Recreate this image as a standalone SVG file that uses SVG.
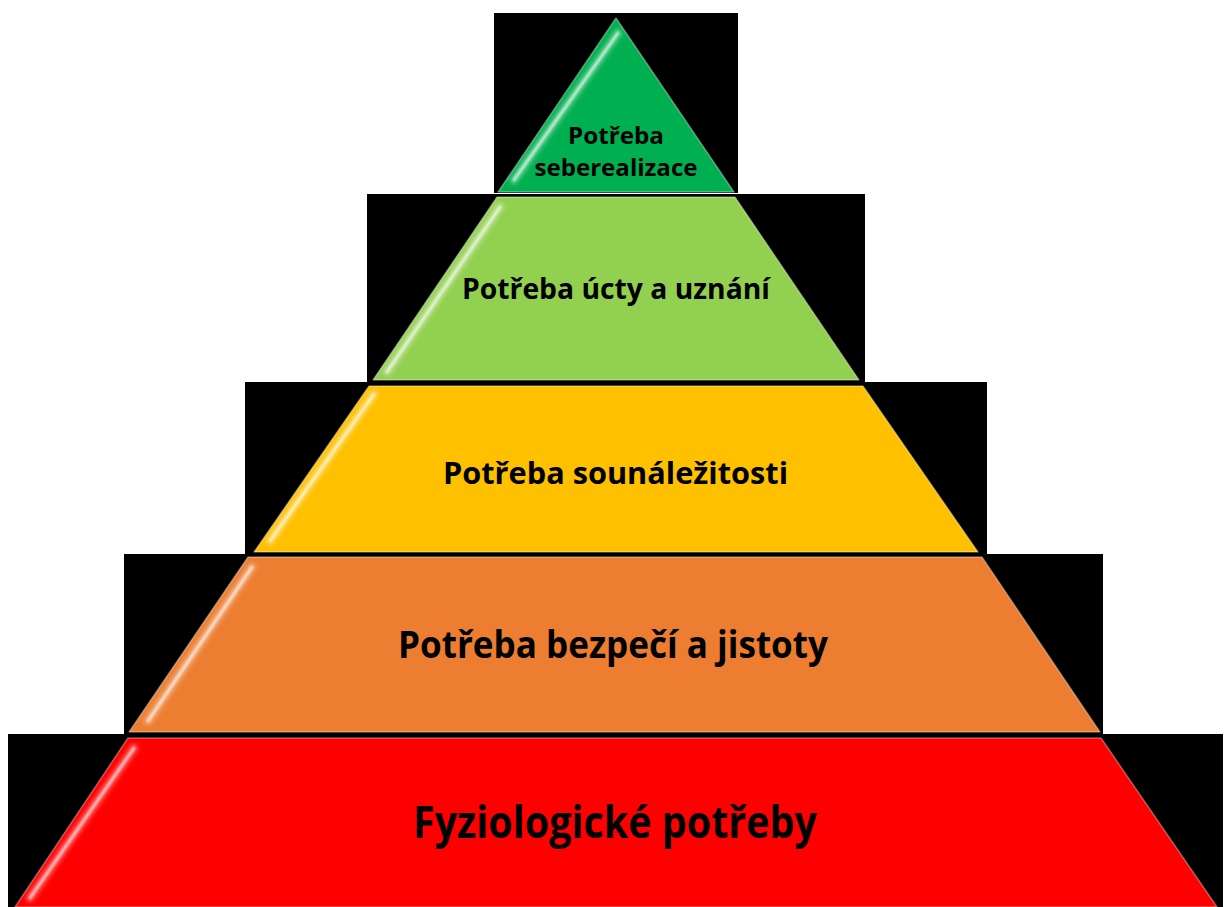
<svg xmlns="http://www.w3.org/2000/svg" width="1228" height="907" viewBox="0 0 1228 907">
<style>
.bg{fill:#000}
.tier{stroke:#ffffff;stroke-opacity:0.35;stroke-width:1.5;stroke-linejoin:round}
.glow{fill:none;stroke:#ffffff;stroke-opacity:0.35;stroke-width:8;stroke-linecap:round;filter:url(#soft)}
.core{fill:none;stroke:#ffffff;stroke-opacity:0.75;stroke-width:2.4;stroke-linecap:round;filter:url(#soft1)}
.lbl{font-family:"Open Sans","Noto Sans","Liberation Sans",sans-serif;font-weight:bold;fill:#000;text-anchor:middle}
</style>
<defs>
<filter id="soft" x="-20%" y="-20%" width="140%" height="140%"><feGaussianBlur stdDeviation="2"/></filter>
<filter id="soft1" x="-20%" y="-20%" width="140%" height="140%"><feGaussianBlur stdDeviation="0.8"/></filter>
</defs>
<rect width="1228" height="907" fill="#fff"/>

<g id="tier5">
<rect class="bg" x="8" y="734" width="1215" height="173"/>
<polygon class="tier" fill="#FF0000" points="128,738 1101,738 1217,907 15,907"/>
<line class="glow" x1="134" y1="748" x2="30" y2="898"/>
<line class="core" x1="134" y1="748" x2="30" y2="898"/>
<text class="lbl" x="615" y="838" font-size="45" textLength="404" lengthAdjust="spacingAndGlyphs">Fyziologické potřeby</text>
</g>

<g id="tier4">
<rect class="bg" x="124" y="554" width="979" height="180"/>
<polygon class="tier" fill="#ED7D31" points="248,557 982,557 1100,732 129,732"/>
<line class="glow" x1="252" y1="567" x2="148" y2="721"/>
<line class="core" x1="252" y1="567" x2="148" y2="721"/>
<text class="lbl" x="613" y="658" font-size="37" textLength="430" lengthAdjust="spacingAndGlyphs">Potřeba bezpečí a jistoty</text>
</g>

<g id="tier3">
<rect class="bg" x="245" y="382" width="742" height="172"/>
<polygon class="tier" fill="#FFC000" points="369,386 863,386 978,552 254,552"/>
<line class="glow" x1="374" y1="394" x2="270" y2="541"/>
<line class="core" x1="374" y1="394" x2="270" y2="541"/>
<text class="lbl" x="615.5" y="484" font-size="30" textLength="345" lengthAdjust="spacingAndGlyphs">Potřeba sounáležitosti</text>
</g>

<g id="tier2">
<rect class="bg" x="367" y="194" width="498" height="188"/>
<polygon class="tier" fill="#92D050" points="497,197 735,197 859,380 373,380"/>
<line class="glow" x1="500" y1="207" x2="387" y2="372"/>
<line class="core" x1="500" y1="207" x2="387" y2="372"/>
<text class="lbl" x="616" y="299" font-size="29" textLength="308" lengthAdjust="spacingAndGlyphs">Potřeba úcty a uznání</text>
</g>

<g id="tier1">
<rect class="bg" x="494" y="13" width="244" height="180"/>
<polygon class="tier" fill="#00B050" points="616,18 734,192 498,192"/>
<line class="glow" x1="618" y1="33" x2="514" y2="180"/>
<line class="core" x1="618" y1="33" x2="514" y2="180"/>
<text class="lbl" x="616" y="144" font-size="24" textLength="96" lengthAdjust="spacingAndGlyphs">Potřeba</text>
<text class="lbl" x="616" y="176" font-size="24" textLength="163" lengthAdjust="spacingAndGlyphs">seberealizace</text>
</g>
</svg>
